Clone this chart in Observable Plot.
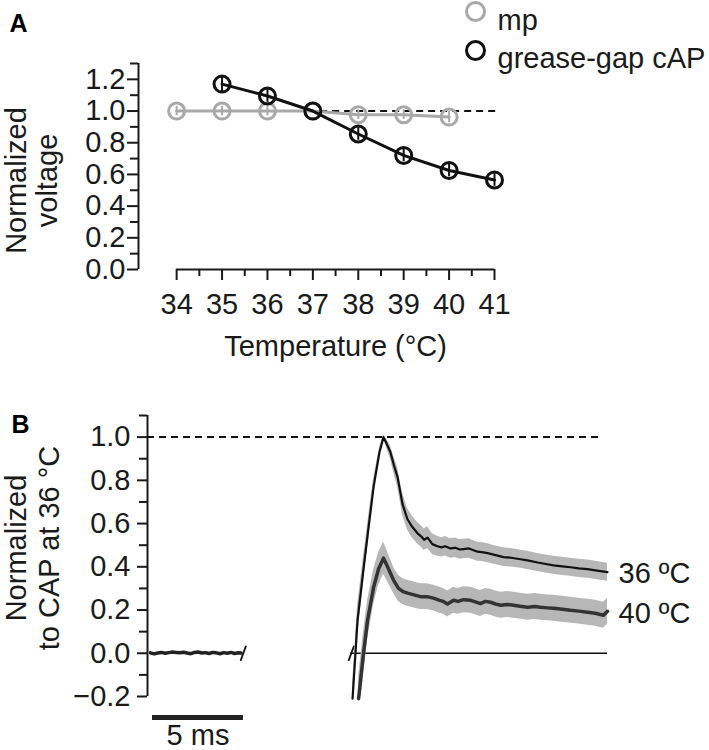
<!DOCTYPE html>
<html>
<head>
<meta charset="utf-8">
<script src="https://cdn.jsdelivr.net/npm/d3@7"></script>
<script src="https://cdn.jsdelivr.net/npm/@observablehq/plot@0.6"></script>
<style>
  html, body { margin: 0; padding: 0; background: #fff; overflow: hidden; }
  #panelA svg, #panelB svg { display: block; }
</style>
</head>
<body>
<div id="panelA"></div>
<div id="panelB"></div>
<script>
// ---- panel A data: normalized voltage vs temperature
const tempTicks = [34, 35, 36, 37, 38, 39, 40, 41];
const tempMinor = [34.5, 35.5, 36.5, 37.5, 38.5, 39.5, 40.5];
const mpTemps = [34, 35, 36, 37, 38, 39, 40];
const mpValues = [1.0, 1.0, 1.0, 1.0, 0.977, 0.977, 0.962];
const mpErr = [0.03, 0.03, 0.03, 0, 0.03, 0.03, 0.035];
const capTemps = [35, 36, 37, 38, 39, 40, 41];
const capValues = [1.17, 1.095, 1.0, 0.855, 0.72, 0.625, 0.565];
const capErr = [0.05, 0.04, 0, 0.04, 0.04, 0.04, 0.04];
const seriesNames = ["mp", "grease-gap cAP"];
const yTicksA = [0, 0.2, 0.4, 0.6, 0.8, 1.0, 1.2];
const yMinorA = [0.1, 0.3, 0.5, 0.7, 0.9, 1.1, 1.3];

// ---- panel B data: averaged CAP traces, [time ms, value, sem]
const yTicksB = [-0.2, 0, 0.2, 0.4, 0.6, 0.8, 1.0];
const yMinorB = [-0.1, 0.1, 0.3, 0.5, 0.7, 0.9, 1.1];
const baseline = [
  [0.0, 0.002], [0.2, -0.003], [0.4, 0.001], [0.6, 0.004], [0.8, 0.000],
  [1.0, 0.003], [1.2, 0.006], [1.4, 0.004], [1.6, 0.002], [1.8, 0.005],
  [2.0, 0.001], [2.2, -0.002], [2.4, 0.004], [2.6, 0.006], [2.8, 0.001],
  [3.0, 0.003], [3.2, -0.001], [3.4, 0.004], [3.6, 0.002], [3.8, -0.002],
  [4.0, 0.003], [4.2, 0.000], [4.4, 0.004], [4.6, -0.001], [4.8, 0.002], [4.95, 0.001]
];
const trace36 = [
  [11.04, -0.21, 0.07], [11.20, 0.00, 0.07], [11.31, 0.15, 0.07], [11.64, 0.39, 0.06],
  [11.97, 0.62, 0.05], [12.19, 0.77, 0.04], [12.51, 0.93, 0.02], [12.73, 1.00, 0.01],
  [12.90, 0.97, 0.02], [13.11, 0.93, 0.03], [13.30, 0.87, 0.04], [13.50, 0.815, 0.045],
  [13.77, 0.69, 0.05], [14.04, 0.62, 0.05], [14.30, 0.585, 0.05], [14.59, 0.555, 0.05],
  [14.80, 0.54, 0.05], [14.95, 0.525, 0.05], [15.14, 0.535, 0.05], [15.40, 0.505, 0.048],
  [15.68, 0.495, 0.046], [15.90, 0.49, 0.045], [16.10, 0.495, 0.045], [16.39, 0.485, 0.045],
  [16.65, 0.488, 0.045], [16.90, 0.48, 0.045], [17.10, 0.482, 0.045], [17.40, 0.485, 0.045],
  [17.87, 0.47, 0.044], [18.10, 0.468, 0.044], [18.42, 0.463, 0.044], [18.80, 0.455, 0.043],
  [19.29, 0.445, 0.043], [19.70, 0.442, 0.043], [20.22, 0.435, 0.042], [20.60, 0.43, 0.042],
  [21.15, 0.42, 0.042], [21.60, 0.413, 0.042], [22.02, 0.407, 0.042], [22.50, 0.402, 0.042],
  [22.95, 0.398, 0.042], [23.40, 0.393, 0.042], [23.88, 0.389, 0.042], [24.40, 0.382, 0.042],
  [24.97, 0.375, 0.042]
];
const trace40 = [
  [11.37, -0.21, 0.10], [11.64, 0.00, 0.10], [11.86, 0.153, 0.09], [12.19, 0.305, 0.08],
  [12.46, 0.39, 0.075], [12.73, 0.44, 0.075], [12.90, 0.41, 0.07], [13.11, 0.37, 0.065],
  [13.30, 0.335, 0.06], [13.55, 0.30, 0.06], [13.80, 0.285, 0.06], [14.04, 0.278, 0.06],
  [14.40, 0.27, 0.06], [14.75, 0.262, 0.06], [15.10, 0.262, 0.06], [15.46, 0.255, 0.06],
  [15.80, 0.245, 0.06], [16.00, 0.24, 0.06], [16.23, 0.228, 0.06], [16.56, 0.245, 0.06],
  [16.80, 0.24, 0.06], [17.10, 0.248, 0.06], [17.49, 0.245, 0.06], [17.75, 0.238, 0.06],
  [18.03, 0.23, 0.06], [18.30, 0.24, 0.06], [18.58, 0.236, 0.06], [18.85, 0.228, 0.06],
  [19.13, 0.222, 0.06], [19.50, 0.226, 0.06], [19.84, 0.222, 0.06], [20.20, 0.218, 0.06],
  [20.60, 0.213, 0.06], [21.00, 0.216, 0.06], [21.31, 0.213, 0.06], [21.70, 0.21, 0.06],
  [22.02, 0.208, 0.06], [22.50, 0.204, 0.06], [22.95, 0.199, 0.06], [23.40, 0.195, 0.06],
  [23.88, 0.19, 0.06], [24.30, 0.185, 0.06], [24.75, 0.176, 0.06], [24.97, 0.194, 0.06]
];
const traceLabels = ["36 ºC", "40 ºC"];
const breakTimes = [4.92, 10.82]; // axis break slashes
const secondStart = 10.93, secondEnd = 24.97;
const scaleBar = [0.11, 5.08]; // 5 ms

const font = "'Liberation Sans', Arial, Helvetica, sans-serif";
const ink = "#1a1a1a";
const grey = "#a9a9a9";
const black = "#111111";
const band = "#b7b7b7";
const fmt = d3.format(".1f");

const mp = mpTemps.map((t, i) => ({t, v: mpValues[i], e: mpErr[i]}));
const cap = capTemps.map((t, i) => ({t, v: capValues[i], e: capErr[i]}));
const legendColors = [grey, black];

const plotA = Plot.plot({
  width: 709,
  height: 375,
  marginLeft: 138,
  marginRight: 215,
  marginTop: 63,
  marginBottom: 106,
  x: {domain: [33.16, 41], label: null},
  y: {domain: [0, 1.3], label: null},
  style: {fontFamily: font, fontSize: "29px", color: ink, overflow: "visible"},
  marks: [
    Plot.ruleX([33.16], {y1: 0, y2: 1.3, stroke: ink, strokeWidth: 2}),
    Plot.axisY({ticks: yTicksA, tickSize: 11, tickPadding: 2, tickFormat: fmt, strokeWidth: 2, label: null}),
    Plot.axisY({ticks: yMinorA, tickSize: 8, tickFormat: () => "", strokeWidth: 2, label: null}),
    Plot.ruleY([0], {x1: 34, x2: 41, stroke: ink, strokeWidth: 2}),
    Plot.axisX({ticks: tempTicks, tickSize: 11, tickPadding: 13, tickFormat: d => d, strokeWidth: 2, label: null}),
    Plot.axisX({ticks: tempMinor, tickSize: 7, tickFormat: () => "", strokeWidth: 2, label: null}),
    Plot.text(["Temperature (°C)"], {x: () => 37.5, y: () => 0, dy: 77, fontSize: 29, fill: ink}),
    Plot.text(["Normalized\nvoltage"], {frameAnchor: "left", textAnchor: "middle", rotate: -90, dx: -107, dy: 14, lineHeight: 1.07, fontSize: 29, fill: ink}),
    Plot.text(["A"], {frameAnchor: "top-left", textAnchor: "start", lineAnchor: "top", dx: -129, dy: -49, fontSize: 25, fontWeight: "bold", fill: "#000"}),
    Plot.ruleY([1], {x1: 34, x2: 41.07, stroke: black, strokeWidth: 2, strokeDasharray: "7,5"}),
    // mp
    Plot.line(mp, {x: "t", y: "v", stroke: grey, strokeWidth: 3}),
    Plot.ruleX(mp, {x: "t", y1: d => d.v - d.e, y2: d => d.v + d.e, stroke: grey, strokeWidth: 2}),
    Plot.dot(mp, {x: "t", y: "v", r: 8, stroke: grey, strokeWidth: 3, fill: "none"}),
    // grease-gap cAP
    Plot.line(cap, {x: "t", y: "v", stroke: black, strokeWidth: 3}),
    Plot.ruleX(cap, {x: "t", y1: d => d.v - d.e, y2: d => d.v + d.e, stroke: black, strokeWidth: 2}),
    Plot.dot(cap, {x: "t", y: "v", r: 8, stroke: black, strokeWidth: 3, fill: "none"}),
    // legend
    ...seriesNames.flatMap((name, i) => [
      Plot.dot([name], {frameAnchor: "top-left", dx: 337, dy: -52 + i * 39, r: 9, stroke: legendColors[i], strokeWidth: 3, fill: "none"}),
      Plot.text([name], {frameAnchor: "top-left", textAnchor: "start", dx: 359, dy: -54 + i * 38, fontSize: 29, fill: ink})
    ])
  ]
});
document.querySelector("#panelA").append(plotA);

const rows = a => a.map(([t, v, s]) => ({t, v, s}));
const d36 = rows(trace36), d40 = rows(trace40);
const ends = [d36[d36.length - 1], d40[d40.length - 1]].map((d, i) => ({...d, label: traceLabels[i]}));

const plotB = Plot.plot({
  width: 709,
  height: 375,
  marginLeft: 147,
  marginRight: 102,
  marginTop: 40,
  marginBottom: 54,
  x: {domain: [-0.164, 24.97], axis: null, label: null},
  y: {domain: [-0.2, 1.1], label: null},
  style: {fontFamily: font, fontSize: "29px", color: ink, overflow: "visible"},
  marks: [
    Plot.ruleX([-0.164], {y1: -0.2, y2: 1.1, stroke: ink, strokeWidth: 2}),
    Plot.axisY({ticks: yTicksB, tickSize: 10, tickPadding: 7, tickFormat: fmt, strokeWidth: 2, label: null}),
    Plot.axisY({ticks: yMinorB, tickSize: 8, tickFormat: () => "", strokeWidth: 2, label: null}),
    Plot.text(["Normalized\nto CAP at 36 °C"], {frameAnchor: "left", textAnchor: "middle", rotate: -90, dx: -116, dy: -8, lineHeight: 1.14, fontSize: 29, fill: ink}),
    Plot.text(["B"], {frameAnchor: "top-left", textAnchor: "start", lineAnchor: "top", dx: -136, dy: 0, fontSize: 25, fontWeight: "bold", fill: "#000"}),
    Plot.ruleY([1], {x1: -0.164, x2: 24.7, stroke: black, strokeWidth: 2, strokeDasharray: "7,5"}),
    // baseline segment and break marks
    Plot.line(baseline, {x: d => d[0], y: d => d[1], stroke: "#222", strokeWidth: 3.5}),
    Plot.link(breakTimes, {x1: d => d, y1: -0.035, x2: d => d + 0.3, y2: 0.035, stroke: black, strokeWidth: 1.8}),
    Plot.ruleY([0], {x1: secondStart, x2: secondEnd, stroke: black, strokeWidth: 1.6}),
    // traces with sem bands
    Plot.areaY(d40, {x: "t", y1: d => d.v - d.s, y2: d => d.v + d.s, fill: band, clip: true}),
    Plot.areaY(d36, {x: "t", y1: d => d.v - d.s, y2: d => d.v + d.s, fill: band, clip: true}),
    Plot.line(d40, {x: "t", y: "v", stroke: "#333", strokeWidth: 3.5}),
    Plot.line(d36, {x: "t", y: "v", stroke: black, strokeWidth: 2.2}),
    Plot.text(ends, {x: "t", y: "v", text: "label", textAnchor: "start", dx: 11, dy: 2, fontSize: 29, fill: ink}),
    // scale bar
    Plot.ruleY([-0.297], {x1: scaleBar[0], x2: scaleBar[1], stroke: "#222", strokeWidth: 5}),
    Plot.text(["5 ms"], {x: () => (scaleBar[0] + scaleBar[1]) / 2, y: () => -0.297, dy: 18, fontSize: 29, fill: ink})
  ]
});
document.querySelector("#panelB").append(plotB);
</script>
</body>
</html>
